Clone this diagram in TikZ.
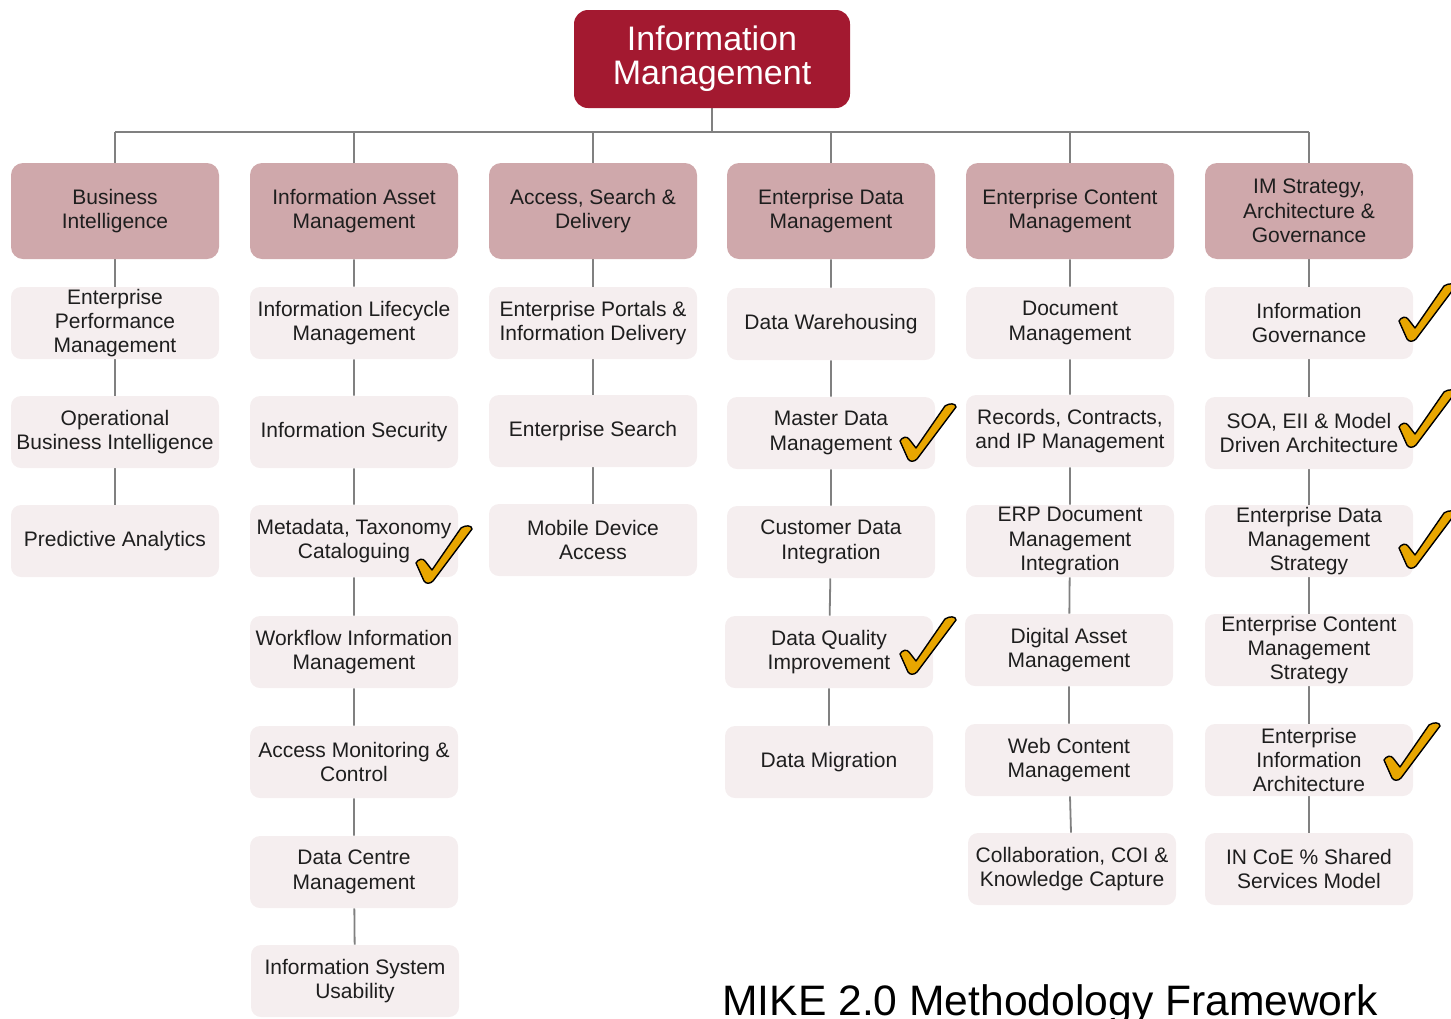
\documentclass[tikz,border=0pt]{standalone}
\usepackage{fontspec}
\setmainfont{Liberation Sans}
\usetikzlibrary{backgrounds}
\definecolor{topfill}{RGB}{163,25,48}
\definecolor{headfill}{RGB}{207,168,171}
\definecolor{itemfill}{RGB}{245,238,239}
\definecolor{linegray}{RGB}{128,128,128}
\definecolor{textdark}{RGB}{30,30,30}
\definecolor{tickfill}{RGB}{232,166,0}
\newcommand\boxfont{\fontsize{10.5}{12.2}\selectfont}
\tikzset{
  link/.style={draw=linegray, line width=0.9pt},
  topbox/.style={rectangle, rounded corners=7pt, fill=topfill, minimum width=138pt,
    minimum height=49pt, inner sep=0pt, align=center, text=white,
    font=\fontsize{17}{16.8}\selectfont},
  headbox/.style={rectangle, rounded corners=6pt, fill=headfill, minimum width=104pt,
    minimum height=48pt, inner sep=0pt, align=center, font=\boxfont, text=textdark},
  itembox/.style={rectangle, rounded corners=5pt, fill=itemfill, minimum width=104pt,
    minimum height=36pt, inner sep=0pt, align=center, font=\boxfont, text=textdark},
  tick/.pic={
    \draw[fill=tickfill, draw=black, line width=0.7pt, line join=round]
      (1,38) .. controls (3,34) and (8,33) .. (10,36) -- (17,45) -- (46,3)
      .. controls (50,0) and (57,0) .. (57,4) -- (18,56)
      .. controls (15,59) and (11,59) .. (9,56) -- cycle;
  }
}
\begin{document}
\begin{tikzpicture}[x=0.5pt, y=-0.5pt]
\useasboundingbox (0,0) rectangle (1451,1018);

% root
\node[topbox] (root) at (712,59) {Information\\Management};

% column headers
\node[headbox] (h1) at (115,211) {Business\\Intelligence};
\node[headbox] (h2) at (354,211) {Information Asset\\Management};
\node[headbox] (h3) at (593,211) {Access, Search \&\\Delivery};
\node[headbox] (h4) at (831,211) {Enterprise Data\\Management};
\node[headbox] (h5) at (1070,211) {Enterprise Content\\Management};
\node[headbox] (h6) at (1309,211) {IM Strategy,\\Architecture \&\\Governance};

% column 1
\node[itembox] (a1) at (115,323) {Enterprise\\Performance\\Management};
\node[itembox] (a2) at (115,432) {Operational\\Business Intelligence};
\node[itembox] (a3) at (115,541) {Predictive Analytics};

% column 2
\node[itembox] (b1) at (354,323) {Information Lifecycle\\Management};
\node[itembox] (b2) at (354,432) {Information Security};
\node[itembox] (b3) at (354,541) {Metadata, Taxonomy\\Cataloguing};
\node[itembox] (b4) at (354,652) {Workflow Information\\Management};
\node[itembox] (b5) at (354,762) {Access Monitoring \&\\Control};
\node[itembox] (b6) at (354,872) {Data Centre\\Management};
\node[itembox] (b7) at (355,981) {Information System\\Usability};

% column 3
\node[itembox] (c1) at (593,323) {Enterprise Portals \&\\Information Delivery};
\node[itembox] (c2) at (593,431) {Enterprise Search};
\node[itembox] (c3) at (593,540) {Mobile Device\\Access};

% column 4
\node[itembox] (d1) at (831,324) {Data Warehousing};
\node[itembox] (d2) at (831,433) {Master Data\\Management};
\node[itembox] (d3) at (831,542) {Customer Data\\Integration};
\node[itembox] (d4) at (829,652) {Data Quality\\Improvement};
\node[itembox] (d5) at (829,762) {Data Migration};

% column 5
\node[itembox] (e1) at (1070,323) {Document\\Management};
\node[itembox] (e2) at (1070,431) {Records, Contracts,\\and IP Management};
\node[itembox] (e3) at (1070,541) {ERP Document\\Management\\Integration};
\node[itembox] (e4) at (1069,650) {Digital Asset\\Management};
\node[itembox] (e5) at (1069,760) {Web Content\\Management};
\node[itembox] (e6) at (1072,869) {Collaboration, COI \&\\Knowledge Capture};

% column 6
\node[itembox] (f1) at (1309,323) {Information\\Governance};
\node[itembox] (f2) at (1309,433) {SOA, EII \& Model\\Driven Architecture};
\node[itembox] (f3) at (1309,541) {Enterprise Data\\Management\\Strategy};
\node[itembox] (f4) at (1309,650) {Enterprise Content\\Management\\Strategy};
\node[itembox] (f5) at (1309,760) {Enterprise\\Information\\Architecture};
\node[itembox] (f6) at (1309,869) {IN CoE \% Shared\\Services Model};

% connectors
\coordinate (bus) at (712,132);
\begin{scope}[on background layer]
  \draw[link] (root) -- (bus);
  \draw[link] (h1 |- bus) -- (h6 |- bus);
  \foreach \h in {h1,h2,h3,h4,h5,h6}{\draw[link] (\h |- bus) -- (\h);}
  \draw[link] (h1) -- (a1) -- (a2) -- (a3);
  \draw[link] (h2) -- (b1) -- (b2) -- (b3) -- (b4) -- (b5) -- (b6) -- (b7);
  \draw[link] (h3) -- (c1) -- (c2) -- (c3);
  \draw[link] (h4) -- (d1) -- (d2) -- (d3) -- (d4) -- (d5);
  \draw[link] (h5) -- (e1) -- (e2) -- (e3) -- (e4) -- (e5) -- (e6);
  \draw[link] (h6) -- (f1) -- (f2) -- (f3) -- (f4) -- (f5) -- (f6);
\end{scope}

% check marks
\pic at (415,525) {tick};
\pic at (899,403) {tick};
\pic at (899,616) {tick};
\pic at (1398,283) {tick};
\pic at (1398,389) {tick};
\pic at (1398,510) {tick};
\pic at (1383,722) {tick};

% caption
\node[anchor=base west, inner sep=0pt, font=\fontsize{21.3}{24}\selectfont, text=black]
  (title) at (722,1015) {MIKE 2.0 Methodology Framework};
\end{tikzpicture}
\end{document}
